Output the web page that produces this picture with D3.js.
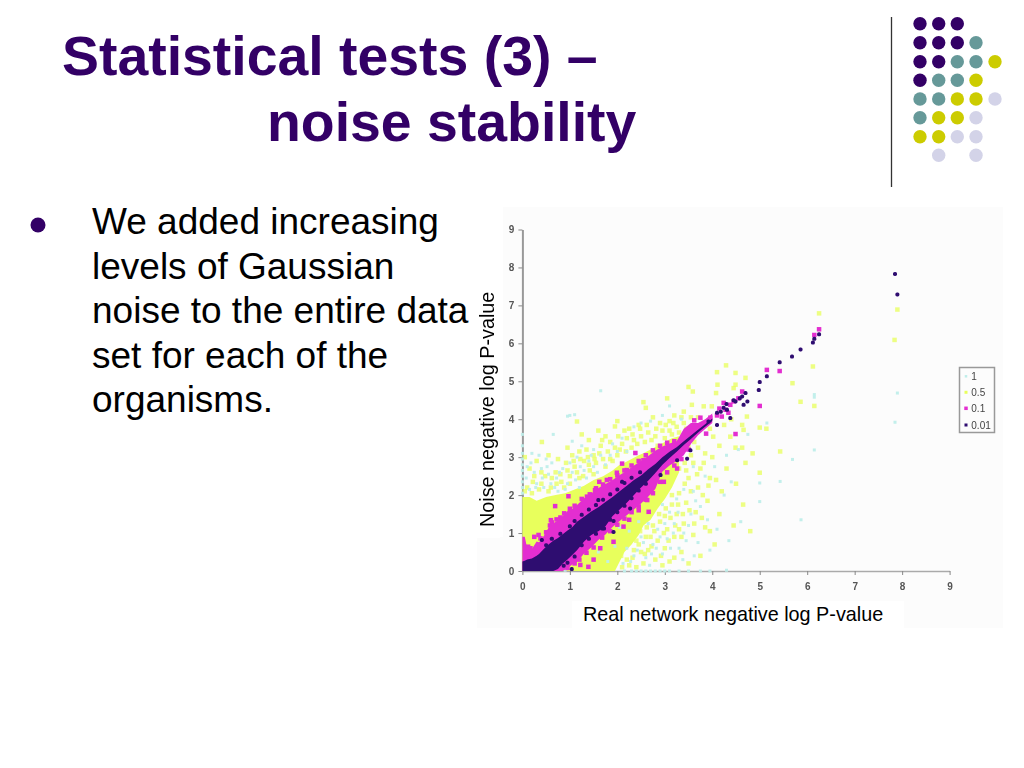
<!DOCTYPE html>
<html><head><meta charset="utf-8">
<script src="https://cdn.jsdelivr.net/npm/d3@7/dist/d3.min.js"></script>
<style>html,body{margin:0;padding:0;background:#fff}svg{display:block}</style>
</head><body>
<div id="c"></div>
<script>
const titleLines = ["Statistical tests (3) –", "noise stability"];
const bodyLines = ["We added increasing", "levels of Gaussian", "noise to the entire data", "set for each of the", "organisms."];
const xLabel = "Real network negative log P-value";
const yLabel = "Noise negative log P-value";
const tickValues = [0,1,2,3,4,5,6,7,8,9];
const legendLabels = ["1","0.5","0.1","0.01"];

const yellowX = [0,.15,.3,.5,.7,.9,1.1,1.3,1.5,1.7,1.9,1.95,2.05,2.15,2.3,2.45,2.55,2.7,2.85,3.0,3.15,3.3];
const yellowLow = [0,0,0,0,0,0,0,0,0,0,0,0,.25,.5,.7,.95,1.2,1.35,1.65,1.9,2.2,2.6];
const yellowUp = [1.95,1.95,1.85,1.95,2.0,2.05,2.15,2.25,2.4,2.5,2.65,2.7,2.8,2.85,2.95,3.05,3.1,3.2,3.3,3.4,3.5,3.55];

const bandX = [0,.05,.1,.2,.3,.35,.45,.55,.65,.75,.85,.95,1.05,1.15,1.3,1.45,1.6,1.75,1.9,2.05,2.2,2.35,2.5,2.65,2.8,2.95,3.1,3.25,3.4,3.55,3.7,3.85,4];
const magentaUp = [.9,.9,.6,.58,.78,.76,.92,1.14,1.26,1.34,1.45,1.58,1.64,1.74,1.92,2.04,2.19,2.29,2.4,2.53,2.64,2.78,2.9,3.03,3.17,3.28,3.36,3.42,3.75,3.9,3.9,4,4.15];
const magentaLow = [0,0,0,0,0,0,0,0,0,0,0,.07,.17,.24,.46,.62,.82,.96,1.16,1.32,1.47,1.62,1.78,1.96,2.16,2.62,2.78,2.9,3.05,3.35,3.58,3.74,3.9];
const darkUp = [.25,.27,.3,.33,.4,.45,.58,.7,.8,.87,.97,1.07,1.15,1.3,1.43,1.57,1.68,1.82,1.95,2.1,2.25,2.4,2.52,2.68,2.82,3,3.14,3.26,3.42,3.57,3.72,3.87,4.02];
const darkLow = [0,0,0,0,0,0,0,0,0,.05,.2,.3,.42,.55,.78,.95,1.05,1.18,1.45,1.62,1.8,2,2.2,2.38,2.58,2.8,2.98,3.14,3.32,3.48,3.65,3.8,3.95];

const cyanPts = [[7.9,4.69],[7.85,3.92],[6.15,4.65],[6.15,4.58],[6.15,3.19],[5.15,3.9],[5.69,2.94],[5.43,2.36],[5,2.32],[5,1.83],[5.87,1.35],
[1.65,4.75],[.95,4.08],[1,4.1],[1.1,4.12],[.65,3.6],[1.05,3.42],[1.25,3.3],[1.5,3.2],[.2,3.1],[.35,3.05],[.5,2.95],[.1,2.75],[.25,2.6],[.4,2.7],[.55,2.55],[.62,2.85],[.3,2.3],[.45,2.2],[.15,2.15],[.6,2.3],[.72,2.45],[.85,2.7],[.95,2.3],[1.05,2.6],[1.15,3.0],[1.3,2.65],[1.4,2.9],[1.5,2.75],[1.65,3.05],[1.75,2.8],[1.9,3.35],[2.1,3.5],[2.2,3.15],[2.35,3.8],[2.5,3.9],[2.7,3.95],[2.95,4.1],[3.1,4.35],[3.35,4.0],[1.2,2.2],[.75,2.1],
[2.2,.6],[2.35,.4],[2.5,.9],[2.6,.35],[2.75,.7],[2.85,1.1],[2.95,.45],[3.05,.85],[3.2,1.25],[3.3,.6],[3.4,1.0],[3.55,1.5],[3.1,1.55],[2.95,1.75],[3.25,1.9],[3.4,2.15],[3.6,2.1],[3.75,1.7],[3.9,1.35],[4.1,1.1],[4.35,.8],[4.6,1.3],[3.7,.75],[3.95,.55],[4.25,2.0],[4.4,2.35],[3.85,2.5],[4.05,2.75],[4.3,3.05],[4.55,3.2],[4.75,3.6],[3.6,2.75],[1.6,.5],[1.8,.25],[1.95,.65],[2.05,1.15],[2.25,1.05],[2.45,1.3],[2.65,1.25],
[.08,2.45],[.18,2.85],[.28,2.2],[.42,2.45],[.52,2.75],[.68,2.2],[.78,2.6],[.9,2.15],[1.0,2.85],[1.12,2.4],[1.22,2.75],[1.35,2.45],[1.45,3.05],[1.58,2.6],[1.85,3.05],[2.0,3.15],
[2.12,.2],[2.28,.25],[2.42,.55],[2.55,.75],[2.68,.15],[2.72,.45],[2.82,.6],[2.9,.9],[3.0,1.25],[3.12,.6],[3.18,1.0],[3.28,1.55],[3.38,.3],[3.45,.8],[3.5,1.2],[3.62,.4],[3.65,1.85],
[0,2.05],[0,2.2],[0,2.35],[0,2.5],[0,2.65],[0,2.8],[0,2.95],[0,3.1],[0,3.3],[0,3.6],
[2.15,0],[2.3,0],[2.4,0],[2.5,0],[2.6,0],[2.7,0],[2.8,0],[2.9,0],[3,0],[3.1,0],[3.3,0],[3.5,0],[3.75,0],[3.95,0],[4.3,.02],[.9,.02]];

const yellowPts = [[6.25,6.79],[7.9,6.89],[7.84,6.09],[6.12,5.39],[5.69,4.95],[5.86,4.46],[6.15,4.35],[5,3.78],[5.14,3.75],[5.43,3.15],[5,2.59],
[4.29,5.42],[4.1,5.24],[4.49,5.22],[4.11,4.91],[4.7,5.09],[4.49,4.91],[4.45,4.82],[3.59,4.73],[4.08,4.69],[3.57,4.38],[3.99,4.34],[3.82,4.34],[4.73,4.07],[4.63,3.85],[4.66,3.72],[4.02,3.54],[4.38,3.54],[4.63,3.25],[4.49,3.25],
[.41,3.4],[1.15,3.94],[1.95,3.81],[2,3.95],[2.55,4.45],[2.6,4.3],[2.75,4.05],[3.05,4.55],[3.2,4.1],[3.1,3.95],[3.4,4.2],[3.5,4.85],[2.9,3.9],[2.45,3.85],[2.25,3.75],[1.75,3.55],[1.6,3.7],[1.4,3.45],[1.25,3.6],[.95,3.25],[1.05,3.05],[1.2,3.15],[1.35,3.2],[1.5,3.05],[1.65,3.3],[1.8,3.15],[1.95,3.25],[2.1,3.35],[2.2,3.5],[2.35,3.45],[2.5,3.55],[2.65,3.65],[2.8,3.55],[2.95,3.7],[3.1,3.7],[3.25,3.8],[3.4,3.9],[3.55,4.05],
[.1,2.2],[.22,2.35],[.35,2.15],[.48,2.5],[.6,2.2],[.7,2.6],[.82,2.35],[.92,2.85],[.15,2.7],[.05,3.0],[.3,2.9],[.55,3.05],[.75,2.95],[1.0,2.5],[1.1,2.75],[1.2,2.45],[1.3,2.9],[1.42,2.65],[1.55,2.85],[1.7,2.95],[1.85,2.95],[2.0,3.05],
[.05,2.1],[.2,2.05],[.4,2.3],[.55,2.1],[.72,2.3],[.88,2.2],[1.0,2.3],[1.15,2.6],[1.28,2.5],[1.4,2.8],[1.5,2.55],[1.62,3.1],[1.75,2.75],[1.9,2.9],[2.05,3.2],[2.18,3.15],[2.3,3.25],[2.42,3.35],[2.58,3.4],[2.72,3.45],[2.85,3.3],[3.0,3.5],[3.15,3.6],[3.3,3.65],[3.45,3.75],
[.25,2.5],[.4,2.6],[.62,2.45],[.8,2.55],[.95,2.65],[1.08,2.9],[1.22,2.95],[1.38,3.0],[1.52,2.95],[1.68,3.45],[1.85,3.4],[2.02,3.55],[2.15,3.7],[2.32,3.6],[2.48,3.75],[2.62,3.85],[2.82,3.75],[3.02,3.85],[3.18,3.9],[3.35,4.05],
[2.1,.1],[2.2,.3],[2.25,.15],[2.35,.55],[2.4,.1],[2.5,.5],[2.55,.2],[2.65,.55],[2.7,.9],[2.8,.3],[2.85,.8],[2.9,1.3],[3,.6],[3.05,1.1],[3.1,.25],[3.2,.9],[3.25,1.5],[3.35,.5],[3.4,1.25],[3.45,1.8],[3.5,.2],[3.6,.95],[3.65,1.55],[3.7,2.2],[3.75,.4],[3.85,1.15],[3.9,1.85],[3.95,2.45],[4.05,.7],[4.15,1.5],[4.2,2.1],[4.3,2.7],[4.45,1.2],[4.5,2.3],[4.65,1.75],[4.7,2.85],[4.85,3.1],[4.8,1.05],[3.3,2.05],[3.5,2.45],[3.6,2.85],[3.75,2.7],[3.85,3.1],[4,3.0],[4.15,3.3],[3.45,2.65],[3.15,1.75],[3,1.45],[3.3,1.1],[2.6,.9],[2.95,.15],[2.45,.7],[2.75,1.2],[3.55,3.05],[3.7,3.25],[4.25,3.85],[4.4,4.0],[3.95,3.75],[3.7,4.05],[3.25,3.05],[2.95,2.0],
[2.08,.4],[2.18,.65],[2.32,.35],[2.3,.9],[2.4,.8],[2.48,1.05],[2.58,.45],[2.62,1.15],[2.72,.65],[2.78,1.05],[2.88,1.5],[2.92,.4],[2.98,1.0],[3.02,1.65],[3.08,.8],[3.12,1.4],[3.15,2.0],[3.22,1.2],[3.28,1.75],[3.35,.9],[3.38,1.5],[3.42,2.3],[3.52,1.6],[3.55,2.1],[3.62,1.25],[3.68,2.55],[3.8,2.0],[3.82,2.85],[3.92,2.25],[4.08,2.4],[3.78,1.4],[3.95,1.05],[3.2,.35],[3.3,2.7],[3.42,2.85],[3.5,3.3],[3.62,3.4]];

const magentaPts = [[6.25,6.37],[6.15,6.22],[5.15,5.3],[5.42,5.27],[5,4.35],[4.63,4.73],[4.45,4.47],[4.24,4.43],[4.34,4.17],[4.2,4.07],[3.96,4.04],[3.75,4.04],[3.62,3.97],[4.49,3.61],[3.87,3.62],[4.1,4.1],[4.28,4.25],[4.55,4.55],[4.38,4.38],[4.15,4.28],
[.69,1.71],[.97,1.97],[.6,1.34],[.8,1.41],[1.36,1.96],[1.62,2.35],[1.53,2.13],[1.99,2.59],[2.1,2.83],[2.38,3.11],[2.2,2.66],[2.55,2.92],[2.63,1.87],[2.66,1.56],[2.13,1.17],[1.92,.77],[1.64,.6],[1.39,.11],[1.22,.16],[2.98,2.35],[3.26,2.7],[.34,.95],[.25,.9],[1.78,2.4],[2.45,1.6],[2.25,1.35],[1.5,.3],
[.12,.64],[.17,.6],[.38,.86],[.5,1.02],[.58,1.2],[.62,1.28],[.72,1.36],[.88,1.52],[1,1.64],[1.1,1.72],[1.25,1.9],[1.42,2.02],[1.55,2.18],[1.7,2.28],[1.85,2.42],[2,2.52],[2.15,2.65],[2.3,2.78],[2.45,2.9],[2.6,3.05],[2.75,3.18],[2.9,3.3],[3.05,3.38],[3.2,3.42],
[.95,.08],[1.1,.2],[1.2,.3],[1.35,.48],[1.5,.62],[1.68,.88],[1.85,1.05],[2,1.22],[2.15,1.38],[2.3,1.55],[2.45,1.7],[2.6,1.88],[2.75,2.05],[2.9,2.35],[3.05,2.6],[3.2,2.78],[3.35,2.95],[3.5,3.2]];

const darkPts = [[7.85,7.83],[7.9,7.29],[6.25,6.24],[6.12,6.02],[6.15,6.12],[5.86,5.84],[5.68,5.65],[5.42,5.5],[5.15,5.13],[5,4.98],[4.98,4.77],[4.7,4.69],[4.74,4.47],[4.63,4.6],[4.66,4.38],[4.49,4.47],[4.24,4.3],[4.31,4.25],[4.38,4.03],[4.1,4.17],[4.1,3.85],[3.92,3.94],[4.18,4.2],[4.45,4.5],[4.58,4.55],[4.3,4.4],
[.87,.14],[1.04,.05],[1.92,1.03],[2.27,1.65],[1.92,1.32],[1.68,1.12],[1.6,1.87],[2.1,2.35],[3.26,2.92],[3.54,3.18],[3.47,2.96],[2.91,2.53],[.41,.82],
[.5,.68],[.62,.85],[.8,.98],[1,1.18],[1.1,1.32],[1.25,1.48],[1.4,1.62],[1.55,1.74],[1.7,1.88],[1.85,2.02],[2,2.15],[2.15,2.32],[2.3,2.46],[2.48,2.6],
[.95,.22],[1.1,.38],[1.25,.68],[1.4,.85],[1.55,.98],[1.72,1.12],[1.85,1.35],[2,1.55],[2.15,1.72],[2.3,1.92],[2.45,2.12],[2.6,2.3]];

const dotColumns = [920,938.7,957.3,976,995];
const dotRows = ["ddd--","dddt-","ddtty","dtty-","ttyyl","tyyl-","yyll-","-l-l-"];
const dotColours = {d:"#330066",t:"#669999",y:"#cccc00",l:"#d3d3e8"};

const W=1024,H=768;
const svg=d3.select("#c").append("svg").attr("width",W).attr("height",H).attr("viewBox",`0 0 ${W} ${H}`);
const font="'Liberation Sans',Arial,sans-serif", purple="#330066";

const defs=svg.append("defs");
defs.append("filter").attr("id","soft").attr("x","-5%").attr("y","-5%").attr("width","110%").attr("height","110%")
 .append("feGaussianBlur").attr("stdDeviation",0.55);

// slide frame
svg.append("line").attr("x1",891.5).attr("x2",891.5).attr("y1",17).attr("y2",187).attr("stroke","#333").attr("stroke-width",1.3);
const rowY=[23.7,42.7,61.7,80.3,99,117.7,136.7,155.3];
dotRows.forEach((r,i)=>[...r].forEach((k,j)=>{ if(dotColours[k]) svg.append("circle").attr("cx",dotColumns[j]).attr("cy",rowY[i]).attr("r",6.7).attr("fill",dotColours[k]); }));

svg.append("text").attr("x",62).attr("y",75).attr("font-family",font).attr("font-weight",700).attr("font-size",55.4).attr("fill",purple).text(titleLines[0]);
svg.append("text").attr("x",267).attr("y",141).attr("font-family",font).attr("font-weight",700).attr("font-size",55.4).attr("fill",purple).text(titleLines[1]);
svg.append("circle").attr("cx",38).attr("cy",225).attr("r",7.5).attr("fill",purple);
bodyLines.forEach((t,i)=>svg.append("text").attr("x",92).attr("y",234+i*44.5).attr("font-family",font).attr("font-size",37).attr("fill","#000").text(t));

// picture panel
svg.append("rect").attr("x",503).attr("y",207).attr("width",500).attr("height",421).attr("fill","#fcfcfc");
svg.append("rect").attr("x",477).attr("y",537).attr("width",95).attr("height",91).attr("fill","#fcfcfc");

const x=d3.scaleLinear().domain([0,9]).range([522.4,949.6]);
const y=d3.scaleLinear().domain([0,9]).range([571,229.5]);
const plot=svg.append("g").attr("filter","url(#soft)");

const ax=plot.append("g").attr("transform","translate(0,571)").call(d3.axisBottom(x).tickValues(tickValues).tickSize(4).tickSizeOuter(0).tickPadding(8));
const ay=plot.append("g").attr("transform","translate(522.4,0)").call(d3.axisLeft(y).tickValues(tickValues).tickSize(4).tickSizeOuter(0).tickPadding(4));
[ax,ay].forEach(a=>{a.selectAll("text").attr("font-family",font).attr("font-size",10).attr("font-weight",700).attr("fill","#555");a.selectAll("line").attr("stroke","#888");});
ax.select(".domain").attr("stroke","#aaa").attr("stroke-width",1.5);
ay.select(".domain").attr("stroke","#999").attr("stroke-width",2);

const cols={c:"#bfeeea",y:"#e8ff5c",m:"#e32fd0",d:"#2e0a70"};
const band=(xs,lo,up,c)=>plot.append("path").datum(xs.map((v,i)=>({v,l:lo[i],u:up[i]})))
 .attr("d",d3.area().x(d=>x(d.v)).y0(d=>y(d.l)).y1(d=>y(d.u))).attr("fill",c);
const pts=(data,s,c,op,r)=>plot.append("g").selectAll("rect").data(data).join("rect")
 .attr("x",d=>x(d[0])-s/2).attr("y",d=>y(d[1])-s/2).attr("width",s).attr("height",s).attr("rx",r).attr("fill",c).attr("opacity",op);

band(yellowX,yellowLow,yellowUp,cols.y);
pts(yellowPts,4.5,cols.y,.75,0);
pts(cyanPts,3,cols.c,.95,0);
band(bandX,magentaLow,magentaUp,cols.m);
pts(magentaPts,4.5,cols.m,1,0);
band(bandX,darkLow,darkUp,cols.d);
pts(darkPts,4,cols.d,1,1.6);

// legend
const legY=[376.3,392.3,408.3,425], legC=[cols.c,cols.y,cols.m,cols.d], legS=[2.5,3,3.5,3];
const leg=plot.append("g");
leg.append("rect").attr("x",959.5).attr("y",367.5).attr("width",35).attr("height",65).attr("fill","#fcfcfc").attr("stroke","#999").attr("stroke-width",1.5);
legendLabels.forEach((t,i)=>{
 leg.append("rect").attr("x",966-legS[i]/2).attr("y",legY[i]-legS[i]/2).attr("width",legS[i]).attr("height",legS[i]).attr("fill",legC[i]);
 leg.append("text").attr("x",971.3).attr("y",legY[i]+3.5).attr("font-family",font).attr("font-size",10).attr("fill","#444").text(t);
});

// axis titles on white patches
svg.append("rect").attr("x",572).attr("y",601).attr("width",332).attr("height",27).attr("fill","#fff");
svg.append("rect").attr("x",477).attr("y",288).attr("width",23).attr("height",250).attr("fill","#fff");
svg.append("text").attr("x",583).attr("y",621).attr("font-family",font).attr("font-size",19.8).attr("fill","#000").text(xLabel);
svg.append("text").attr("transform","translate(494,527) rotate(-90)").attr("font-family",font).attr("font-size",19.8).attr("fill","#000").text(yLabel);
</script>
</body></html>
